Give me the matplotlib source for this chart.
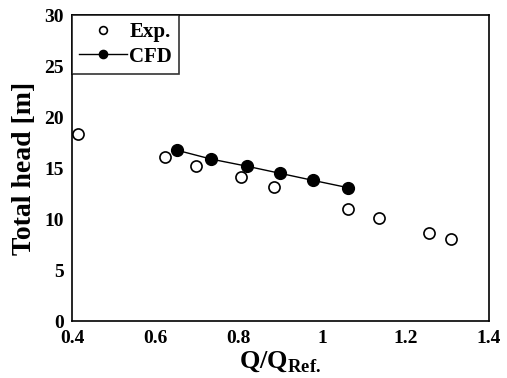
import numpy as np
import matplotlib
matplotlib.use('Agg')
import matplotlib.pyplot as plt
from matplotlib.ticker import FuncFormatter

plt.rcParams['font.family'] = 'Liberation Serif'
plt.rcParams['font.weight'] = 'bold'
plt.rcParams['mathtext.fontset'] = 'custom'
plt.rcParams['mathtext.rm'] = 'Liberation Serif:bold'
plt.rcParams['mathtext.bf'] = 'Liberation Serif:bold'

# experimental data
exp_q = [0.414, 0.622, 0.697, 0.805, 0.885, 1.061, 1.136, 1.256, 1.310]
exp_h = [18.4, 16.1, 15.2, 14.1, 13.2, 11.0, 10.1, 8.7, 8.1]

# cfd results
cfd_q = [0.653, 0.733, 0.819, 0.899, 0.979, 1.061]
cfd_h = [16.75, 15.9, 15.2, 14.5, 13.8, 13.1]

xticks = [0.4, 0.6, 0.8, 1.0, 1.2, 1.4]
yticks = [0, 5, 10, 15, 20, 25, 30]

fig = plt.figure(figsize=(5.07, 3.78), dpi=100)
ax = fig.add_axes([0.142, 0.150, 0.8225, 0.810])

ax.plot(exp_q, exp_h, 'o', markersize=8, markerfacecolor='white',
        markeredgecolor='black', markeredgewidth=1.2, label='Exp.')
ax.plot(cfd_q, cfd_h, '-o', color='black', linewidth=1, markersize=8.5,
        markerfacecolor='black', label='CFD')

ax.set_xlim(0.4, 1.4)
ax.set_ylim(0, 30)
ax.set_xticks(xticks)
ax.set_yticks(yticks)
ax.xaxis.set_major_formatter(FuncFormatter(lambda v, p: '%g' % v))
ax.tick_params(length=0, labelsize=14, pad=6)
for s in ax.spines.values():
    s.set_linewidth(1.2)

ax.set_xlabel(r'$\mathbf{Q/Q}_{\mathbf{Ref.}}$', fontsize=19, labelpad=2)
ax.set_ylabel('Total head [m]', fontsize=20, fontweight='bold', labelpad=5)

leg = ax.legend(loc='upper left', fontsize=15, frameon=True, fancybox=False,
                edgecolor='black', borderaxespad=0, handlelength=2.3,
                handletextpad=0.1, borderpad=0.35, labelspacing=0.2,
                markerscale=0.7)
leg.get_frame().set_linewidth(1.2)

fig.savefig('out.png', dpi=100)
